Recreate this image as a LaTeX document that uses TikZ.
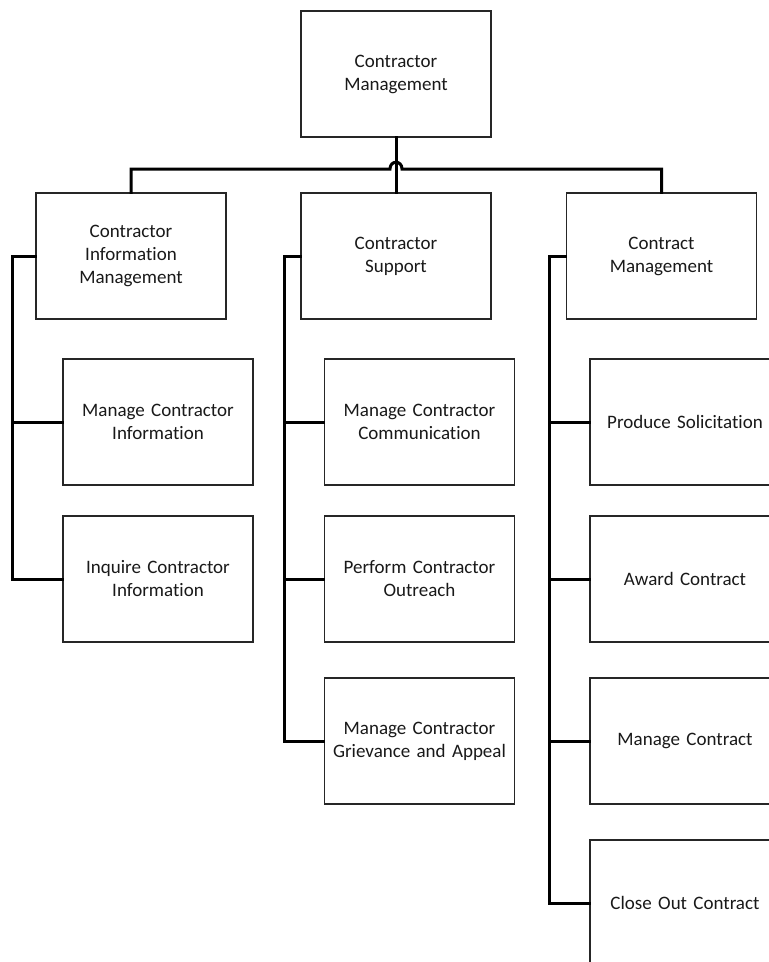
\documentclass[tikz,border=0pt]{standalone}
\usepackage{fontspec}
\setmainfont{Carlito}[Ligatures={NoCommon,NoRare}, WordSpace={0.85}]
\begin{document}
\begin{tikzpicture}[x=1pt,y=-1pt,
  box/.style={draw=black!85, line width=1.3pt, fill=white, rectangle,
    minimum width=190pt, minimum height=126pt, inner sep=0pt,
    align=center, text width=186pt, text=black!90,
    font=\fontsize{19}{23}\selectfont},
  conn/.style={line width=3pt, line cap=rect, draw=black}]
\useasboundingbox (0,0) rectangle (769,962);
\clip (0,0) rectangle (769,962);

% root and first level
\node[box] (root) at (396,74)    {Contractor\\Management};
\node[box] (cim)  at (131,256)   {Contractor\\Information\\Management};
\node[box] (cs)   at (396,256)   {Contractor\\Support};
\node[box] (cm)   at (661.5,256) {Contract\\Management};

% children of Contractor Information Management
\node[box] (mci) at (158,422) {Manage Contractor\\Information};
\node[box] (ici) at (158,579) {Inquire Contractor\\Information};

% children of Contractor Support
\node[box] (mcc) at (419.5,422) {Manage Contractor\\Communication};
\node[box] (pco) at (419.5,579) {Perform Contractor\\Outreach};
\node[box] (mcg) at (419.5,741) {Manage Contractor\\Grievance and Appeal};

% children of Contract Management
\node[box] (ps)  at (685,422) {Produce Solicitation};
\node[box] (ac)  at (685,579) {Award Contract};
\node[box] (mct) at (685,741) {Manage Contract};
\node[box] (coc) at (685,903) {Close Out Contract};

% bus under the root, hopping over the middle drop
\coordinate (hopL) at (390,169);
\coordinate (hopR) at (402,169);
\draw[conn] (root.south) -- (cs.north);
\draw[conn] (cim.north) |- (hopL)
  .. controls (390,160) and (402,160) .. (hopR)
  -| (cm.north);

% spines
\coordinate (s1) at (12.5,256);
\coordinate (s2) at (284,256);
\coordinate (s3) at (549,256);

\draw[conn] (cim.west) -- (s1) |- (ici.west);
\draw[conn] (mci.west) -- (mci.west -| s1);

\draw[conn] (cs.west) -- (s2) |- (mcg.west);
\draw[conn] (mcc.west) -- (mcc.west -| s2);
\draw[conn] (pco.west) -- (pco.west -| s2);

\draw[conn] (cm.west) -- (s3) |- (coc.west);
\draw[conn] (ps.west) -- (ps.west -| s3);
\draw[conn] (ac.west) -- (ac.west -| s3);
\draw[conn] (mct.west) -- (mct.west -| s3);
\end{tikzpicture}
\end{document}
